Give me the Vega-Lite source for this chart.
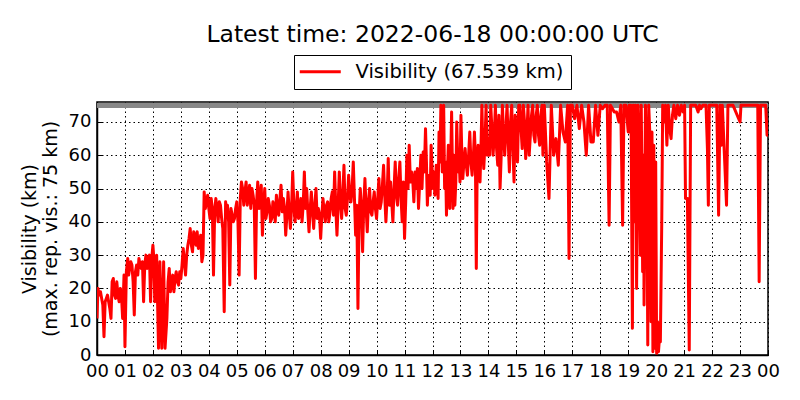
{
  "$schema": "https://vega.github.io/schema/vega-lite/v6.json",
  "width": 671,
  "height": 253,
  "autosize": "none",
  "padding": {"left": 97, "top": 102, "right": 32, "bottom": 45},
  "title": {
    "text": "Latest time: 2022-06-18 00:00:00 UTC",
    "anchor": "middle",
    "font": "DejaVu Sans",
    "fontSize": 23.5,
    "fontWeight": "normal",
    "color": "black",
    "offset": 8
  },
  "data": {
    "values": [
      {"t": "2022-06-17T00:00:00Z", "v": 11}, {"t": "2022-06-17T00:02:00Z", "v": 20}, {"t": "2022-06-17T00:05:00Z", "v": 18}, {"t": "2022-06-17T00:07:30Z", "v": 19},
      {"t": "2022-06-17T00:10:00Z", "v": 17}, {"t": "2022-06-17T00:12:30Z", "v": 15}, {"t": "2022-06-17T00:15:00Z", "v": 5.5}, {"t": "2022-06-17T00:17:30Z", "v": 16},
      {"t": "2022-06-17T00:20:00Z", "v": 17}, {"t": "2022-06-17T00:22:30Z", "v": 18}, {"t": "2022-06-17T00:25:00Z", "v": 16}, {"t": "2022-06-17T00:27:30Z", "v": 14},
      {"t": "2022-06-17T00:30:00Z", "v": 11}, {"t": "2022-06-17T00:32:30Z", "v": 22}, {"t": "2022-06-17T00:35:00Z", "v": 23}, {"t": "2022-06-17T00:37:30Z", "v": 18},
      {"t": "2022-06-17T00:40:00Z", "v": 17}, {"t": "2022-06-17T00:42:30Z", "v": 22}, {"t": "2022-06-17T00:45:00Z", "v": 18}, {"t": "2022-06-17T00:47:30Z", "v": 16},
      {"t": "2022-06-17T00:50:00Z", "v": 20}, {"t": "2022-06-17T00:52:30Z", "v": 18}, {"t": "2022-06-17T00:55:00Z", "v": 11}, {"t": "2022-06-17T00:58:00Z", "v": 24},
      {"t": "2022-06-17T01:00:00Z", "v": 2.5}, {"t": "2022-06-17T01:03:00Z", "v": 25}, {"t": "2022-06-17T01:06:00Z", "v": 29}, {"t": "2022-06-17T01:08:00Z", "v": 24},
      {"t": "2022-06-17T01:10:00Z", "v": 26}, {"t": "2022-06-17T01:12:30Z", "v": 28}, {"t": "2022-06-17T01:15:00Z", "v": 27}, {"t": "2022-06-17T01:17:30Z", "v": 22},
      {"t": "2022-06-17T01:20:00Z", "v": 12}, {"t": "2022-06-17T01:22:30Z", "v": 25}, {"t": "2022-06-17T01:25:00Z", "v": 27}, {"t": "2022-06-17T01:27:30Z", "v": 24},
      {"t": "2022-06-17T01:30:00Z", "v": 29}, {"t": "2022-06-17T01:32:30Z", "v": 27}, {"t": "2022-06-17T01:35:00Z", "v": 26}, {"t": "2022-06-17T01:37:30Z", "v": 28},
      {"t": "2022-06-17T01:40:00Z", "v": 16}, {"t": "2022-06-17T01:42:30Z", "v": 27}, {"t": "2022-06-17T01:45:00Z", "v": 30}, {"t": "2022-06-17T01:47:30Z", "v": 26},
      {"t": "2022-06-17T01:50:00Z", "v": 29}, {"t": "2022-06-17T01:52:30Z", "v": 30}, {"t": "2022-06-17T01:55:00Z", "v": 16}, {"t": "2022-06-17T01:57:30Z", "v": 29},
      {"t": "2022-06-17T02:00:00Z", "v": 33}, {"t": "2022-06-17T02:02:00Z", "v": 29}, {"t": "2022-06-17T02:04:00Z", "v": 16}, {"t": "2022-06-17T02:06:00Z", "v": 27},
      {"t": "2022-06-17T02:08:00Z", "v": 30}, {"t": "2022-06-17T02:12:00Z", "v": 2}, {"t": "2022-06-17T02:15:00Z", "v": 28}, {"t": "2022-06-17T02:19:00Z", "v": 2},
      {"t": "2022-06-17T02:23:00Z", "v": 28}, {"t": "2022-06-17T02:26:00Z", "v": 2}, {"t": "2022-06-17T02:30:00Z", "v": 11}, {"t": "2022-06-17T02:32:30Z", "v": 22},
      {"t": "2022-06-17T02:35:00Z", "v": 26}, {"t": "2022-06-17T02:37:30Z", "v": 19}, {"t": "2022-06-17T02:40:00Z", "v": 22}, {"t": "2022-06-17T02:42:30Z", "v": 24},
      {"t": "2022-06-17T02:45:00Z", "v": 19}, {"t": "2022-06-17T02:47:30Z", "v": 23}, {"t": "2022-06-17T02:50:00Z", "v": 25}, {"t": "2022-06-17T02:52:30Z", "v": 22},
      {"t": "2022-06-17T02:55:00Z", "v": 21}, {"t": "2022-06-17T02:57:30Z", "v": 25}, {"t": "2022-06-17T03:00:00Z", "v": 23}, {"t": "2022-06-17T03:02:30Z", "v": 27},
      {"t": "2022-06-17T03:05:00Z", "v": 32}, {"t": "2022-06-17T03:07:30Z", "v": 28}, {"t": "2022-06-17T03:10:00Z", "v": 24}, {"t": "2022-06-17T03:12:30Z", "v": 30},
      {"t": "2022-06-17T03:15:00Z", "v": 33}, {"t": "2022-06-17T03:17:30Z", "v": 35}, {"t": "2022-06-17T03:20:00Z", "v": 38}, {"t": "2022-06-17T03:22:30Z", "v": 33},
      {"t": "2022-06-17T03:25:00Z", "v": 31}, {"t": "2022-06-17T03:27:30Z", "v": 37}, {"t": "2022-06-17T03:30:00Z", "v": 36}, {"t": "2022-06-17T03:32:30Z", "v": 33},
      {"t": "2022-06-17T03:35:00Z", "v": 37}, {"t": "2022-06-17T03:37:30Z", "v": 32}, {"t": "2022-06-17T03:40:00Z", "v": 34}, {"t": "2022-06-17T03:42:30Z", "v": 36},
      {"t": "2022-06-17T03:45:00Z", "v": 28}, {"t": "2022-06-17T03:47:30Z", "v": 30}, {"t": "2022-06-17T03:50:00Z", "v": 49}, {"t": "2022-06-17T03:52:30Z", "v": 44},
      {"t": "2022-06-17T03:55:00Z", "v": 46}, {"t": "2022-06-17T03:57:30Z", "v": 48}, {"t": "2022-06-17T04:00:00Z", "v": 44}, {"t": "2022-06-17T04:02:30Z", "v": 41},
      {"t": "2022-06-17T04:05:00Z", "v": 47}, {"t": "2022-06-17T04:07:30Z", "v": 44}, {"t": "2022-06-17T04:10:00Z", "v": 24}, {"t": "2022-06-17T04:12:30Z", "v": 43},
      {"t": "2022-06-17T04:15:00Z", "v": 47}, {"t": "2022-06-17T04:17:30Z", "v": 44}, {"t": "2022-06-17T04:20:00Z", "v": 40}, {"t": "2022-06-17T04:22:30Z", "v": 46},
      {"t": "2022-06-17T04:25:00Z", "v": 45}, {"t": "2022-06-17T04:27:30Z", "v": 41}, {"t": "2022-06-17T04:30:00Z", "v": 38}, {"t": "2022-06-17T04:33:00Z", "v": 13},
      {"t": "2022-06-17T04:36:00Z", "v": 46}, {"t": "2022-06-17T04:38:00Z", "v": 42}, {"t": "2022-06-17T04:40:00Z", "v": 45}, {"t": "2022-06-17T04:42:30Z", "v": 40},
      {"t": "2022-06-17T04:45:00Z", "v": 21}, {"t": "2022-06-17T04:47:30Z", "v": 44}, {"t": "2022-06-17T04:50:00Z", "v": 42}, {"t": "2022-06-17T04:52:30Z", "v": 40},
      {"t": "2022-06-17T04:55:00Z", "v": 41}, {"t": "2022-06-17T04:57:30Z", "v": 44}, {"t": "2022-06-17T05:00:00Z", "v": 46}, {"t": "2022-06-17T05:02:30Z", "v": 40},
      {"t": "2022-06-17T05:05:00Z", "v": 24}, {"t": "2022-06-17T05:07:30Z", "v": 47}, {"t": "2022-06-17T05:10:00Z", "v": 52}, {"t": "2022-06-17T05:12:30Z", "v": 50},
      {"t": "2022-06-17T05:15:00Z", "v": 45}, {"t": "2022-06-17T05:17:30Z", "v": 49}, {"t": "2022-06-17T05:20:00Z", "v": 52}, {"t": "2022-06-17T05:22:30Z", "v": 45},
      {"t": "2022-06-17T05:25:00Z", "v": 48}, {"t": "2022-06-17T05:27:30Z", "v": 51}, {"t": "2022-06-17T05:30:00Z", "v": 44}, {"t": "2022-06-17T05:32:30Z", "v": 50},
      {"t": "2022-06-17T05:35:00Z", "v": 48}, {"t": "2022-06-17T05:37:30Z", "v": 45}, {"t": "2022-06-17T05:40:00Z", "v": 23}, {"t": "2022-06-17T05:42:30Z", "v": 46},
      {"t": "2022-06-17T05:45:00Z", "v": 52}, {"t": "2022-06-17T05:47:30Z", "v": 44}, {"t": "2022-06-17T05:50:00Z", "v": 47}, {"t": "2022-06-17T05:52:30Z", "v": 51},
      {"t": "2022-06-17T05:55:00Z", "v": 36}, {"t": "2022-06-17T05:57:30Z", "v": 45}, {"t": "2022-06-17T06:00:00Z", "v": 50}, {"t": "2022-06-17T06:02:30Z", "v": 41},
      {"t": "2022-06-17T06:05:00Z", "v": 43}, {"t": "2022-06-17T06:07:30Z", "v": 47}, {"t": "2022-06-17T06:10:00Z", "v": 45}, {"t": "2022-06-17T06:12:30Z", "v": 40},
      {"t": "2022-06-17T06:15:00Z", "v": 41}, {"t": "2022-06-17T06:17:30Z", "v": 46}, {"t": "2022-06-17T06:20:00Z", "v": 44}, {"t": "2022-06-17T06:22:30Z", "v": 40},
      {"t": "2022-06-17T06:25:00Z", "v": 48}, {"t": "2022-06-17T06:27:30Z", "v": 44}, {"t": "2022-06-17T06:30:00Z", "v": 42}, {"t": "2022-06-17T06:32:30Z", "v": 47},
      {"t": "2022-06-17T06:35:00Z", "v": 51}, {"t": "2022-06-17T06:37:30Z", "v": 43}, {"t": "2022-06-17T06:40:00Z", "v": 47}, {"t": "2022-06-17T06:42:30Z", "v": 44},
      {"t": "2022-06-17T06:45:00Z", "v": 36}, {"t": "2022-06-17T06:47:30Z", "v": 42}, {"t": "2022-06-17T06:50:00Z", "v": 49}, {"t": "2022-06-17T06:52:30Z", "v": 43},
      {"t": "2022-06-17T06:55:00Z", "v": 38}, {"t": "2022-06-17T06:57:30Z", "v": 44}, {"t": "2022-06-17T07:00:00Z", "v": 55}, {"t": "2022-06-17T07:02:30Z", "v": 45},
      {"t": "2022-06-17T07:05:00Z", "v": 40}, {"t": "2022-06-17T07:07:30Z", "v": 44}, {"t": "2022-06-17T07:10:00Z", "v": 49}, {"t": "2022-06-17T07:12:30Z", "v": 41},
      {"t": "2022-06-17T07:15:00Z", "v": 42}, {"t": "2022-06-17T07:17:30Z", "v": 47}, {"t": "2022-06-17T07:20:00Z", "v": 40}, {"t": "2022-06-17T07:22:30Z", "v": 45},
      {"t": "2022-06-17T07:25:00Z", "v": 55}, {"t": "2022-06-17T07:27:30Z", "v": 44}, {"t": "2022-06-17T07:30:00Z", "v": 50}, {"t": "2022-06-17T07:32:30Z", "v": 43},
      {"t": "2022-06-17T07:35:00Z", "v": 37}, {"t": "2022-06-17T07:37:30Z", "v": 44}, {"t": "2022-06-17T07:40:00Z", "v": 49}, {"t": "2022-06-17T07:42:30Z", "v": 43},
      {"t": "2022-06-17T07:45:00Z", "v": 38}, {"t": "2022-06-17T07:47:30Z", "v": 45}, {"t": "2022-06-17T07:50:00Z", "v": 50}, {"t": "2022-06-17T07:52:30Z", "v": 41},
      {"t": "2022-06-17T07:55:00Z", "v": 44}, {"t": "2022-06-17T07:57:30Z", "v": 42}, {"t": "2022-06-17T08:00:00Z", "v": 35}, {"t": "2022-06-17T08:02:30Z", "v": 42},
      {"t": "2022-06-17T08:05:00Z", "v": 47}, {"t": "2022-06-17T08:07:30Z", "v": 43}, {"t": "2022-06-17T08:10:00Z", "v": 40}, {"t": "2022-06-17T08:12:30Z", "v": 45},
      {"t": "2022-06-17T08:15:00Z", "v": 46}, {"t": "2022-06-17T08:17:30Z", "v": 40}, {"t": "2022-06-17T08:20:00Z", "v": 43}, {"t": "2022-06-17T08:22:30Z", "v": 47},
      {"t": "2022-06-17T08:25:00Z", "v": 49}, {"t": "2022-06-17T08:27:30Z", "v": 42}, {"t": "2022-06-17T08:30:00Z", "v": 55}, {"t": "2022-06-17T08:32:30Z", "v": 44},
      {"t": "2022-06-17T08:35:00Z", "v": 36}, {"t": "2022-06-17T08:37:30Z", "v": 45}, {"t": "2022-06-17T08:40:00Z", "v": 55}, {"t": "2022-06-17T08:42:30Z", "v": 46},
      {"t": "2022-06-17T08:45:00Z", "v": 41}, {"t": "2022-06-17T08:47:30Z", "v": 48}, {"t": "2022-06-17T08:50:00Z", "v": 57}, {"t": "2022-06-17T08:52:30Z", "v": 44},
      {"t": "2022-06-17T08:55:00Z", "v": 42}, {"t": "2022-06-17T08:57:30Z", "v": 47}, {"t": "2022-06-17T09:00:00Z", "v": 54}, {"t": "2022-06-17T09:02:30Z", "v": 48},
      {"t": "2022-06-17T09:05:00Z", "v": 46}, {"t": "2022-06-17T09:07:30Z", "v": 50}, {"t": "2022-06-17T09:10:00Z", "v": 58}, {"t": "2022-06-17T09:12:30Z", "v": 47},
      {"t": "2022-06-17T09:15:00Z", "v": 36}, {"t": "2022-06-17T09:17:30Z", "v": 45}, {"t": "2022-06-17T09:20:00Z", "v": 14}, {"t": "2022-06-17T09:22:30Z", "v": 42},
      {"t": "2022-06-17T09:25:00Z", "v": 50}, {"t": "2022-06-17T09:27:30Z", "v": 44}, {"t": "2022-06-17T09:30:00Z", "v": 31}, {"t": "2022-06-17T09:32:30Z", "v": 45},
      {"t": "2022-06-17T09:35:00Z", "v": 53}, {"t": "2022-06-17T09:37:30Z", "v": 44}, {"t": "2022-06-17T09:40:00Z", "v": 37}, {"t": "2022-06-17T09:42:30Z", "v": 46},
      {"t": "2022-06-17T09:45:00Z", "v": 50}, {"t": "2022-06-17T09:47:30Z", "v": 43}, {"t": "2022-06-17T09:50:00Z", "v": 42}, {"t": "2022-06-17T09:52:30Z", "v": 46},
      {"t": "2022-06-17T09:55:00Z", "v": 49}, {"t": "2022-06-17T09:57:30Z", "v": 44}, {"t": "2022-06-17T10:00:00Z", "v": 41}, {"t": "2022-06-17T10:02:30Z", "v": 47},
      {"t": "2022-06-17T10:05:00Z", "v": 53}, {"t": "2022-06-17T10:07:30Z", "v": 44}, {"t": "2022-06-17T10:10:00Z", "v": 46}, {"t": "2022-06-17T10:12:30Z", "v": 51},
      {"t": "2022-06-17T10:15:00Z", "v": 57}, {"t": "2022-06-17T10:17:30Z", "v": 48}, {"t": "2022-06-17T10:20:00Z", "v": 40}, {"t": "2022-06-17T10:22:30Z", "v": 47},
      {"t": "2022-06-17T10:25:00Z", "v": 59}, {"t": "2022-06-17T10:27:30Z", "v": 45}, {"t": "2022-06-17T10:30:00Z", "v": 52}, {"t": "2022-06-17T10:32:30Z", "v": 46},
      {"t": "2022-06-17T10:35:00Z", "v": 40}, {"t": "2022-06-17T10:37:30Z", "v": 50}, {"t": "2022-06-17T10:40:00Z", "v": 58}, {"t": "2022-06-17T10:42:30Z", "v": 48},
      {"t": "2022-06-17T10:45:00Z", "v": 45}, {"t": "2022-06-17T10:47:30Z", "v": 53}, {"t": "2022-06-17T10:50:00Z", "v": 58}, {"t": "2022-06-17T10:52:30Z", "v": 47},
      {"t": "2022-06-17T10:55:00Z", "v": 40}, {"t": "2022-06-17T10:57:30Z", "v": 52}, {"t": "2022-06-17T11:00:00Z", "v": 35}, {"t": "2022-06-17T11:02:30Z", "v": 46},
      {"t": "2022-06-17T11:05:00Z", "v": 60}, {"t": "2022-06-17T11:07:30Z", "v": 50}, {"t": "2022-06-17T11:10:00Z", "v": 63}, {"t": "2022-06-17T11:12:30Z", "v": 52},
      {"t": "2022-06-17T11:15:00Z", "v": 55}, {"t": "2022-06-17T11:17:30Z", "v": 53}, {"t": "2022-06-17T11:20:00Z", "v": 46}, {"t": "2022-06-17T11:22:30Z", "v": 55},
      {"t": "2022-06-17T11:25:00Z", "v": 50}, {"t": "2022-06-17T11:27:30Z", "v": 56}, {"t": "2022-06-17T11:30:00Z", "v": 44}, {"t": "2022-06-17T11:32:30Z", "v": 52},
      {"t": "2022-06-17T11:35:00Z", "v": 60}, {"t": "2022-06-17T11:37:30Z", "v": 50}, {"t": "2022-06-17T11:40:00Z", "v": 61}, {"t": "2022-06-17T11:42:30Z", "v": 55},
      {"t": "2022-06-17T11:45:00Z", "v": 68}, {"t": "2022-06-17T11:47:00Z", "v": 58}, {"t": "2022-06-17T11:49:00Z", "v": 45}, {"t": "2022-06-17T11:51:00Z", "v": 52},
      {"t": "2022-06-17T11:53:00Z", "v": 54}, {"t": "2022-06-17T11:55:00Z", "v": 48}, {"t": "2022-06-17T11:57:00Z", "v": 63}, {"t": "2022-06-17T12:01:00Z", "v": 50},
      {"t": "2022-06-17T12:03:00Z", "v": 55}, {"t": "2022-06-17T12:05:00Z", "v": 48}, {"t": "2022-06-17T12:08:00Z", "v": 57}, {"t": "2022-06-17T12:10:00Z", "v": 52},
      {"t": "2022-06-17T12:12:00Z", "v": 47}, {"t": "2022-06-17T12:14:00Z", "v": 67}, {"t": "2022-06-17T12:16:00Z", "v": 58}, {"t": "2022-06-17T12:18:00Z", "v": 75},
      {"t": "2022-06-17T12:21:00Z", "v": 55}, {"t": "2022-06-17T12:24:00Z", "v": 75}, {"t": "2022-06-17T12:26:00Z", "v": 50}, {"t": "2022-06-17T12:28:00Z", "v": 58},
      {"t": "2022-06-17T12:30:00Z", "v": 42}, {"t": "2022-06-17T12:32:00Z", "v": 55}, {"t": "2022-06-17T12:34:00Z", "v": 63}, {"t": "2022-06-17T12:37:00Z", "v": 44},
      {"t": "2022-06-17T12:39:00Z", "v": 58}, {"t": "2022-06-17T12:41:00Z", "v": 73}, {"t": "2022-06-17T12:44:00Z", "v": 44}, {"t": "2022-06-17T12:46:00Z", "v": 60},
      {"t": "2022-06-17T12:48:00Z", "v": 45}, {"t": "2022-06-17T12:50:00Z", "v": 52}, {"t": "2022-06-17T12:52:00Z", "v": 70}, {"t": "2022-06-17T12:55:00Z", "v": 55},
      {"t": "2022-06-17T12:57:00Z", "v": 60}, {"t": "2022-06-17T12:59:00Z", "v": 52}, {"t": "2022-06-17T13:01:00Z", "v": 72}, {"t": "2022-06-17T13:03:00Z", "v": 60},
      {"t": "2022-06-17T13:05:00Z", "v": 53}, {"t": "2022-06-17T13:07:30Z", "v": 58}, {"t": "2022-06-17T13:10:00Z", "v": 62}, {"t": "2022-06-17T13:12:30Z", "v": 57},
      {"t": "2022-06-17T13:15:00Z", "v": 54}, {"t": "2022-06-17T13:17:30Z", "v": 60}, {"t": "2022-06-17T13:20:00Z", "v": 67}, {"t": "2022-06-17T13:22:30Z", "v": 58},
      {"t": "2022-06-17T13:25:00Z", "v": 54}, {"t": "2022-06-17T13:27:30Z", "v": 59}, {"t": "2022-06-17T13:30:00Z", "v": 67}, {"t": "2022-06-17T13:32:00Z", "v": 60},
      {"t": "2022-06-17T13:34:00Z", "v": 26}, {"t": "2022-06-17T13:36:00Z", "v": 58}, {"t": "2022-06-17T13:38:00Z", "v": 63}, {"t": "2022-06-17T13:40:00Z", "v": 57},
      {"t": "2022-06-17T13:42:00Z", "v": 52}, {"t": "2022-06-17T13:44:00Z", "v": 62}, {"t": "2022-06-17T13:46:00Z", "v": 75}, {"t": "2022-06-17T13:48:00Z", "v": 62},
      {"t": "2022-06-17T13:50:00Z", "v": 56}, {"t": "2022-06-17T13:52:30Z", "v": 63}, {"t": "2022-06-17T13:55:00Z", "v": 75}, {"t": "2022-06-17T13:57:30Z", "v": 60},
      {"t": "2022-06-17T14:00:00Z", "v": 65}, {"t": "2022-06-17T14:02:30Z", "v": 60}, {"t": "2022-06-17T14:05:00Z", "v": 75}, {"t": "2022-06-17T14:07:30Z", "v": 68},
      {"t": "2022-06-17T14:10:00Z", "v": 60}, {"t": "2022-06-17T14:12:30Z", "v": 66}, {"t": "2022-06-17T14:15:00Z", "v": 75}, {"t": "2022-06-17T14:17:30Z", "v": 62},
      {"t": "2022-06-17T14:20:00Z", "v": 57}, {"t": "2022-06-17T14:22:30Z", "v": 72}, {"t": "2022-06-17T14:25:00Z", "v": 50}, {"t": "2022-06-17T14:27:30Z", "v": 60},
      {"t": "2022-06-17T14:30:00Z", "v": 75}, {"t": "2022-06-17T14:32:30Z", "v": 66}, {"t": "2022-06-17T14:35:00Z", "v": 60}, {"t": "2022-06-17T14:37:30Z", "v": 68},
      {"t": "2022-06-17T14:40:00Z", "v": 75}, {"t": "2022-06-17T14:42:30Z", "v": 64}, {"t": "2022-06-17T14:45:00Z", "v": 55}, {"t": "2022-06-17T14:47:30Z", "v": 70},
      {"t": "2022-06-17T14:50:00Z", "v": 75}, {"t": "2022-06-17T14:52:30Z", "v": 62}, {"t": "2022-06-17T14:55:00Z", "v": 52}, {"t": "2022-06-17T14:57:30Z", "v": 72},
      {"t": "2022-06-17T15:00:00Z", "v": 65}, {"t": "2022-06-17T15:02:30Z", "v": 58}, {"t": "2022-06-17T15:05:00Z", "v": 75}, {"t": "2022-06-17T15:07:30Z", "v": 75},
      {"t": "2022-06-17T15:10:00Z", "v": 68}, {"t": "2022-06-17T15:12:30Z", "v": 62}, {"t": "2022-06-17T15:15:00Z", "v": 75}, {"t": "2022-06-17T15:17:30Z", "v": 70},
      {"t": "2022-06-17T15:20:00Z", "v": 59}, {"t": "2022-06-17T15:22:30Z", "v": 66}, {"t": "2022-06-17T15:25:00Z", "v": 75}, {"t": "2022-06-17T15:27:30Z", "v": 60},
      {"t": "2022-06-17T15:30:00Z", "v": 66}, {"t": "2022-06-17T15:32:30Z", "v": 72}, {"t": "2022-06-17T15:35:00Z", "v": 75}, {"t": "2022-06-17T15:37:30Z", "v": 66},
      {"t": "2022-06-17T15:40:00Z", "v": 64}, {"t": "2022-06-17T15:42:30Z", "v": 72}, {"t": "2022-06-17T15:45:00Z", "v": 75}, {"t": "2022-06-17T15:47:30Z", "v": 66},
      {"t": "2022-06-17T15:50:00Z", "v": 63}, {"t": "2022-06-17T15:52:30Z", "v": 72}, {"t": "2022-06-17T15:55:00Z", "v": 75}, {"t": "2022-06-17T15:57:00Z", "v": 60},
      {"t": "2022-06-17T16:00:00Z", "v": 75}, {"t": "2022-06-17T16:05:00Z", "v": 58}, {"t": "2022-06-17T16:10:00Z", "v": 47}, {"t": "2022-06-17T16:15:00Z", "v": 75},
      {"t": "2022-06-17T16:20:00Z", "v": 60}, {"t": "2022-06-17T16:25:00Z", "v": 65}, {"t": "2022-06-17T16:30:00Z", "v": 57}, {"t": "2022-06-17T16:35:00Z", "v": 75},
      {"t": "2022-06-17T16:40:00Z", "v": 67}, {"t": "2022-06-17T16:45:00Z", "v": 64}, {"t": "2022-06-17T16:50:00Z", "v": 75}, {"t": "2022-06-17T16:53:00Z", "v": 29},
      {"t": "2022-06-17T16:56:00Z", "v": 75}, {"t": "2022-06-17T17:00:00Z", "v": 75}, {"t": "2022-06-17T17:05:00Z", "v": 71}, {"t": "2022-06-17T17:10:00Z", "v": 75},
      {"t": "2022-06-17T17:15:00Z", "v": 68}, {"t": "2022-06-17T17:20:00Z", "v": 75}, {"t": "2022-06-17T17:25:00Z", "v": 70}, {"t": "2022-06-17T17:30:00Z", "v": 60},
      {"t": "2022-06-17T17:35:00Z", "v": 75}, {"t": "2022-06-17T17:40:00Z", "v": 64}, {"t": "2022-06-17T17:45:00Z", "v": 64}, {"t": "2022-06-17T17:50:00Z", "v": 75},
      {"t": "2022-06-17T17:55:00Z", "v": 66}, {"t": "2022-06-17T18:00:00Z", "v": 75}, {"t": "2022-06-17T18:05:00Z", "v": 74}, {"t": "2022-06-17T18:10:00Z", "v": 75},
      {"t": "2022-06-17T18:15:00Z", "v": 75}, {"t": "2022-06-17T18:19:00Z", "v": 39}, {"t": "2022-06-17T18:22:00Z", "v": 75}, {"t": "2022-06-17T18:30:00Z", "v": 73},
      {"t": "2022-06-17T18:35:00Z", "v": 73}, {"t": "2022-06-17T18:40:00Z", "v": 70}, {"t": "2022-06-17T18:44:00Z", "v": 75}, {"t": "2022-06-17T18:48:00Z", "v": 39},
      {"t": "2022-06-17T18:51:00Z", "v": 75}, {"t": "2022-06-17T18:55:00Z", "v": 75}, {"t": "2022-06-17T19:00:00Z", "v": 67}, {"t": "2022-06-17T19:02:00Z", "v": 75},
      {"t": "2022-06-17T19:04:00Z", "v": 67}, {"t": "2022-06-17T19:06:00Z", "v": 75}, {"t": "2022-06-17T19:09:00Z", "v": 8}, {"t": "2022-06-17T19:11:00Z", "v": 75},
      {"t": "2022-06-17T19:14:00Z", "v": 40}, {"t": "2022-06-17T19:16:00Z", "v": 75}, {"t": "2022-06-17T19:18:00Z", "v": 20}, {"t": "2022-06-17T19:21:00Z", "v": 75},
      {"t": "2022-06-17T19:24:00Z", "v": 58}, {"t": "2022-06-17T19:26:00Z", "v": 30}, {"t": "2022-06-17T19:28:00Z", "v": 75}, {"t": "2022-06-17T19:31:00Z", "v": 25},
      {"t": "2022-06-17T19:33:00Z", "v": 60}, {"t": "2022-06-17T19:34:00Z", "v": 15}, {"t": "2022-06-17T19:37:00Z", "v": 75}, {"t": "2022-06-17T19:40:00Z", "v": 50},
      {"t": "2022-06-17T19:42:00Z", "v": 3}, {"t": "2022-06-17T19:44:00Z", "v": 75}, {"t": "2022-06-17T19:46:00Z", "v": 68}, {"t": "2022-06-17T19:49:00Z", "v": 10},
      {"t": "2022-06-17T19:51:00Z", "v": 67}, {"t": "2022-06-17T19:53:00Z", "v": 1}, {"t": "2022-06-17T19:55:00Z", "v": 63}, {"t": "2022-06-17T19:57:00Z", "v": 2},
      {"t": "2022-06-17T19:59:00Z", "v": 58}, {"t": "2022-06-17T20:01:00Z", "v": 0.5}, {"t": "2022-06-17T20:03:00Z", "v": 10}, {"t": "2022-06-17T20:05:00Z", "v": 1},
      {"t": "2022-06-17T20:07:00Z", "v": 5}, {"t": "2022-06-17T20:09:00Z", "v": 4}, {"t": "2022-06-17T20:12:00Z", "v": 40}, {"t": "2022-06-17T20:14:00Z", "v": 75},
      {"t": "2022-06-17T20:17:00Z", "v": 70}, {"t": "2022-06-17T20:20:00Z", "v": 75}, {"t": "2022-06-17T20:23:00Z", "v": 63}, {"t": "2022-06-17T20:26:00Z", "v": 75},
      {"t": "2022-06-17T20:29:00Z", "v": 68}, {"t": "2022-06-17T20:32:00Z", "v": 65}, {"t": "2022-06-17T20:35:00Z", "v": 72}, {"t": "2022-06-17T20:38:00Z", "v": 75},
      {"t": "2022-06-17T20:42:00Z", "v": 71}, {"t": "2022-06-17T20:46:00Z", "v": 75}, {"t": "2022-06-17T20:50:00Z", "v": 72}, {"t": "2022-06-17T20:54:00Z", "v": 75},
      {"t": "2022-06-17T20:58:00Z", "v": 73}, {"t": "2022-06-17T21:01:00Z", "v": 75}, {"t": "2022-06-17T21:03:00Z", "v": 47}, {"t": "2022-06-17T21:07:00Z", "v": 47},
      {"t": "2022-06-17T21:11:00Z", "v": 1.5}, {"t": "2022-06-17T21:14:00Z", "v": 75}, {"t": "2022-06-17T21:20:00Z", "v": 75}, {"t": "2022-06-17T21:25:00Z", "v": 75},
      {"t": "2022-06-17T21:30:00Z", "v": 73}, {"t": "2022-06-17T21:33:00Z", "v": 75}, {"t": "2022-06-17T21:36:00Z", "v": 74}, {"t": "2022-06-17T21:40:00Z", "v": 75},
      {"t": "2022-06-17T21:47:00Z", "v": 75}, {"t": "2022-06-17T21:50:00Z", "v": 62}, {"t": "2022-06-17T21:52:00Z", "v": 45}, {"t": "2022-06-17T21:54:00Z", "v": 75},
      {"t": "2022-06-17T22:00:00Z", "v": 75}, {"t": "2022-06-17T22:10:00Z", "v": 75}, {"t": "2022-06-17T22:14:00Z", "v": 42}, {"t": "2022-06-17T22:17:00Z", "v": 75},
      {"t": "2022-06-17T22:20:00Z", "v": 63}, {"t": "2022-06-17T22:22:00Z", "v": 75}, {"t": "2022-06-17T22:31:00Z", "v": 45}, {"t": "2022-06-17T22:34:00Z", "v": 75},
      {"t": "2022-06-17T22:45:00Z", "v": 75}, {"t": "2022-06-17T23:00:00Z", "v": 70}, {"t": "2022-06-17T23:02:00Z", "v": 75}, {"t": "2022-06-17T23:38:00Z", "v": 75},
      {"t": "2022-06-17T23:41:00Z", "v": 22}, {"t": "2022-06-17T23:44:00Z", "v": 75}, {"t": "2022-06-17T23:55:00Z", "v": 75}, {"t": "2022-06-17T23:58:00Z", "v": 66},
      {"t": "2022-06-18T00:00:00Z", "v": 67.539}
    ]
  },
  "layer": [
    {
      "mark": {"type": "rule", "color": "#888888", "strokeWidth": 4},
      "encoding": {
        "y": {
          "datum": 75,
          "type": "quantitative",
          "scale": {"domain": [0, 76], "nice": false},
          "axis": {
            "title": ["Visibility (km)", "(max. rep. vis.: 75 km)"],
            "values": [0, 10, 20, 30, 40, 50, 60, 70],
            "labelOverlap": false,
            "labelPadding": 11,
            "titlePadding": 8
          }
        }
      }
    },
    {
      "mark": {"type": "line", "strokeWidth": 3, "strokeJoin": "round", "clip": true},
      "encoding": {
        "x": {
          "field": "t",
          "type": "temporal",
          "scale": {"type": "utc", "domain": [1655424000000, 1655510400000]},
          "axis": {
            "title": null,
            "format": "%H",
            "tickCount": 24,
            "labelFlush": false,
            "labelPadding": 12
          }
        },
        "y": {
          "field": "v",
          "type": "quantitative",
          "scale": {"domain": [0, 76], "nice": false},
          "axis": {
            "title": ["Visibility (km)", "(max. rep. vis.: 75 km)"],
            "values": [0, 10, 20, 30, 40, 50, 60, 70],
            "labelOverlap": false,
            "labelPadding": 11,
            "titlePadding": 8
          }
        },
        "color": {
          "datum": "Visibility (67.539 km)",
          "scale": {"range": ["#ff0000"]},
          "legend": {
            "orient": "none",
            "legendX": 197,
            "legendY": -47,
            "direction": "horizontal",
            "title": null,
            "strokeColor": "black",
            "fillColor": "white",
            "padding": 7,
            "symbolType": "M-1.57,0H4.29",
            "symbolSize": 196,
            "symbolStrokeWidth": 3,
            "labelOffset": 35,
            "labelLimit": 400,
            "labelFontSize": 19.5,
            "labelFont": "DejaVu Sans",
            "labelColor": "black"
          }
        }
      }
    }
  ],
  "config": {
    "font": "DejaVu Sans",
    "view": {"stroke": "black", "strokeWidth": 1.5},
    "axis": {
      "domainColor": "black",
      "domainWidth": 1.5,
      "grid": true,
      "gridColor": "black",
      "gridDash": [1.5, 3],
      "gridWidth": 1,
      "ticks": true,
      "tickSize": -5,
      "tickColor": "black",
      "tickWidth": 1,
      "labelOverlap": false,
      "labelFont": "DejaVu Sans",
      "labelFontSize": 18,
      "labelColor": "black",
      "titleFont": "DejaVu Sans",
      "titleFontSize": 19,
      "titleFontWeight": "normal",
      "titleColor": "black"
    }
  }
}
